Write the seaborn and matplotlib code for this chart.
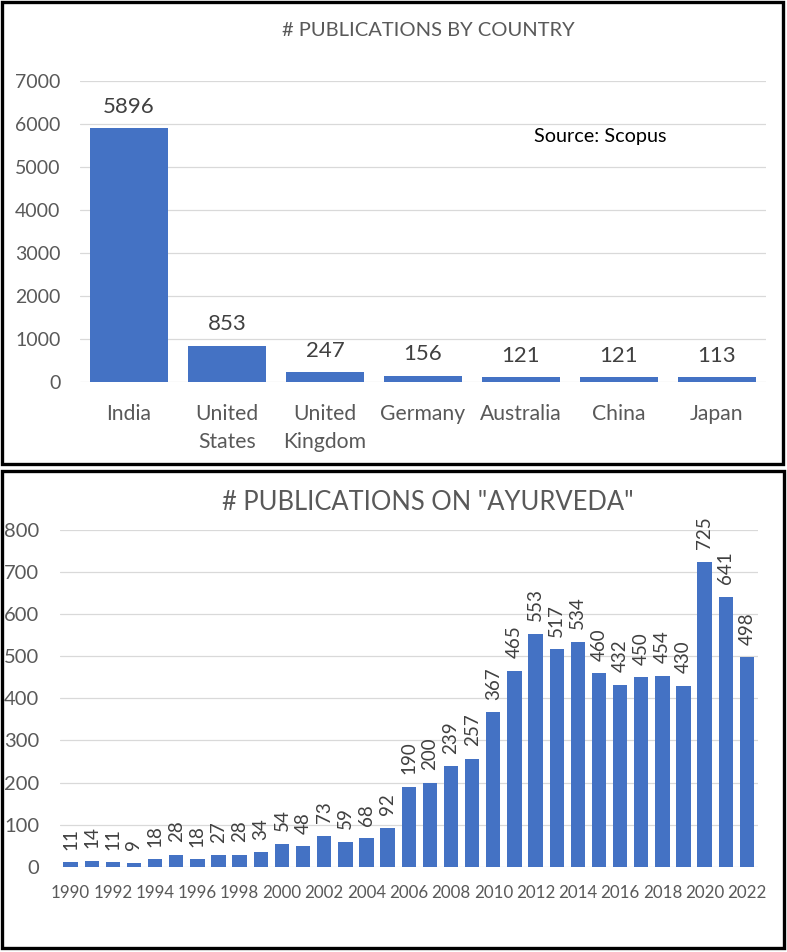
import matplotlib
matplotlib.use("Agg")
import matplotlib.pyplot as plt
import seaborn as sns
import pandas as pd
from matplotlib.patches import Rectangle

# ---------------- data ----------------
countries = ["India", "United\nStates", "United\nKingdom", "Germany", "Australia", "China", "Japan"]
country_pubs = [5896, 853, 247, 156, 121, 121, 113]

years = list(range(1990, 2023))
year_pubs = [11, 14, 11, 9, 18, 28, 18, 27, 28, 34, 54, 48, 73, 59, 68, 92,
             190, 200, 239, 257, 367, 465, 553, 517, 534, 460, 432, 450, 454, 430,
             725, 641, 498]

top_yticks = [0, 1000, 2000, 3000, 4000, 5000, 6000, 7000]
bot_yticks = [0, 100, 200, 300, 400, 500, 600, 700, 800]

top_title = "# PUBLICATIONS BY COUNTRY"
bot_title = '# PUBLICATIONS ON "AYURVEDA"'
source_note = "Source: Scopus"

# ---------------- style ----------------
sns.set_theme(style="white")
plt.rcParams["font.family"] = ["Lato", "DejaVu Sans"]

BAR = "#4472C4"
GRID = "#D9D9D9"
AXTXT = "#595959"
LBLTXT = "#404040"

W, H = 787, 952
fig = plt.figure(figsize=(W / 100, H / 100), dpi=100)
fig.patch.set_facecolor("white")


def fx(px):
    return px / W


def fy(py):
    return 1 - py / H


# panel borders
for (x0, y0, x1, y1) in [(2, 2, 783, 464), (2, 471, 784, 948)]:
    fig.patches.append(Rectangle((fx(x0), fy(y1)), fx(x1) - fx(x0), fy(y0) - fy(y1),
                                 transform=fig.transFigure, fill=False,
                                 edgecolor="black", linewidth=2.4, zorder=10))

# ---------------- top chart ----------------
ax1 = fig.add_axes([fx(80), fy(382.3), fx(766) - fx(80), fy(80.9) - fy(382.3)])
df1 = pd.DataFrame({"country": countries, "pubs": country_pubs})
sns.barplot(data=df1, x="country", y="pubs", order=countries, color=BAR,
            saturation=1, width=0.8, linewidth=0, ax=ax1)
ax1.set_ylim(0, 7000)
ax1.set_yticks(top_yticks)
ax1.set_yticklabels([str(v) for v in top_yticks])
ax1.grid(axis="y", color=GRID, linewidth=0.9)
ax1.set_axisbelow(True)
for s in ax1.spines.values():
    s.set_visible(False)
ax1.set_xlabel("")
ax1.set_ylabel("")
ax1.tick_params(axis="y", length=0, pad=14, labelsize=14, labelcolor=AXTXT)
ax1.tick_params(axis="x", length=0, pad=15.5, labelsize=15.2, labelcolor=AXTXT)
for t in ax1.get_xticklabels():
    t.set_linespacing(1.5)
ax1.bar_label(ax1.containers[0], labels=[str(v) for v in country_pubs],
              padding=8, fontsize=16, color=LBLTXT)

fig.text(fx(428), fy(30), top_title, ha="center", va="center",
         fontsize=14.5, color=AXTXT)
fig.text(fx(600), fy(137), source_note, ha="center", va="center",
         fontsize=14.3, color="black")

# ---------------- bottom chart ----------------
ax2 = fig.add_axes([fx(60), fy(866.7), fx(757.5) - fx(60), fy(530) - fy(866.7)])
year_lbls = [str(y) for y in years]
df2 = pd.DataFrame({"year": year_lbls, "pubs": year_pubs})
sns.barplot(data=df2, x="year", y="pubs", order=year_lbls, color=BAR,
            saturation=1, width=0.68, linewidth=0, ax=ax2)
ax2.set_ylim(0, 800)
ax2.set_yticks(bot_yticks)
ax2.set_yticklabels([str(v) for v in bot_yticks])
ax2.set_xticks(list(range(0, len(years), 2)))
ax2.set_xticklabels(year_lbls[::2])
ax2.grid(axis="y", color=GRID, linewidth=0.9)
ax2.set_axisbelow(True)
for s in ax2.spines.values():
    s.set_visible(False)
ax2.set_xlabel("")
ax2.set_ylabel("")
ax2.tick_params(axis="y", length=0, pad=15, labelsize=14.5, labelcolor=AXTXT)
ax2.tick_params(axis="x", length=0, pad=13, labelsize=12.2, labelcolor=AXTXT)
ax2.bar_label(ax2.containers[0], labels=[str(v) for v in year_pubs],
              padding=9, fontsize=13.5, color=LBLTXT, rotation=90)

fig.text(fx(428), fy(502), bot_title, ha="center", va="center",
         fontsize=18.4, color=AXTXT)

fig.savefig("out.png", dpi=100, facecolor="white")
